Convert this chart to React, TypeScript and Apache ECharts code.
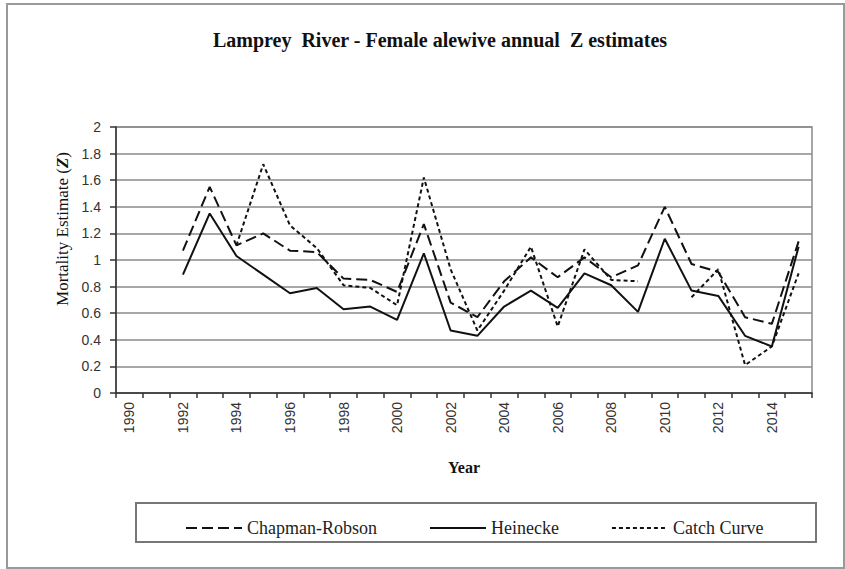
import React, { useEffect, useRef } from "react";
import * as echarts from "echarts";

const years: string[] = [
  "1990", "1991", "1992", "1993", "1994", "1995", "1996", "1997", "1998", "1999",
  "2000", "2001", "2002", "2003", "2004", "2005", "2006", "2007", "2008", "2009",
  "2010", "2011", "2012", "2013", "2014", "2015",
];

const chapmanRobson: (number | null)[] = [
  null, null, 1.07, 1.55, 1.11, 1.2, 1.07, 1.06, 0.86, 0.85,
  0.76, 1.27, 0.68, 0.57, 0.84, 1.02, 0.87, 1.02, 0.87, 0.96,
  1.4, 0.97, 0.91, 0.57, 0.52, 1.14,
];

const heinecke: (number | null)[] = [
  null, null, 0.89, 1.35, 1.03, 0.89, 0.75, 0.79, 0.63, 0.65,
  0.55, 1.05, 0.47, 0.43, 0.65, 0.77, 0.64, 0.9, 0.81, 0.61,
  1.16, 0.77, 0.73, 0.43, 0.35, 1.1,
];

const catchCurve: (number | null)[] = [
  null, null, null, null, 1.11, 1.72, 1.26, 1.09, 0.81, 0.79,
  0.66, 1.62, 0.93, 0.47, 0.77, 1.1, 0.5, 1.08, 0.85, 0.84,
  null, 0.72, 0.93, 0.21, 0.35, 0.9,
];

const seriesNames = ["Chapman-Robson", "Heinecke", "Catch Curve"];

const serif = "'Liberation Serif', 'Times New Roman', serif";
const sans = "'Liberation Sans', Arial, sans-serif";

export default function App() {
  const ref = useRef<HTMLDivElement>(null);

  useEffect(() => {
    if (!ref.current) return;
    const chart = echarts.init(ref.current, undefined, { renderer: "svg" });

    const mkSeries = (name: string, data: (number | null)[], type: any) => ({
      name,
      type: "line",
      data,
      symbol: "none",
      connectNulls: false,
      lineStyle: { color: "#111", width: 2, type },
      itemStyle: { color: "#111" },
    });

    chart.setOption({
      animation: false,
      backgroundColor: "#fff",
      title: {
        text: "Lamprey  River - Female alewive annual  Z estimates",
        left: 440,
        top: 30,
        textAlign: "center",
        padding: 0,
        textStyle: { fontFamily: serif, fontWeight: "bold", fontSize: 20, color: "#111" },
      },
      grid: { left: 116, right: 33, top: 127, bottom: 176, show: true, borderColor: "#8a8a8a", borderWidth: 1.5 },
      legend: {
        data: seriesNames,
        left: 180,
        top: 514,
        itemWidth: 56,
        itemHeight: 14,
        itemGap: 52,
        itemStyle: { opacity: 0, borderWidth: 0 },
        textStyle: { fontFamily: serif, fontSize: 18, color: "#222" },
      },
      xAxis: {
        type: "category",
        data: years,
        boundaryGap: true,
        name: "Year",
        nameLocation: "middle",
        nameGap: 66,
        nameTextStyle: { fontFamily: serif, fontWeight: "bold", fontSize: 16, color: "#111", verticalAlign: "top" },
        axisLine: { lineStyle: { color: "#333", width: 1.5 } },
        axisTick: { show: true, interval: 0, length: 5, lineStyle: { color: "#333", width: 1.5 } },
        axisLabel: {
          interval: 1,
          rotate: 90,
          margin: 9,
          fontFamily: sans,
          fontSize: 14,
          color: "#333",
        },
        splitLine: { show: false },
      },
      yAxis: {
        type: "value",
        min: 0,
        max: 2,
        interval: 0.2,
        axisLine: { show: true, lineStyle: { color: "#333", width: 1.5 } },
        axisTick: { show: true, length: 6, lineStyle: { color: "#333", width: 1.5 } },
        axisLabel: {
          margin: 15,
          fontFamily: sans,
          fontSize: 14,
          color: "#333",
          formatter: (v: number) => String(Math.round(v * 10) / 10),
        },
        splitLine: { show: true, lineStyle: { color: "#8a8a8a", width: 1.5 } },
      },
      graphic: [
        {
          type: "rect",
          shape: { x: 7, y: 4, width: 837, height: 564 },
          style: { fill: "none", stroke: "#9a9a9a", lineWidth: 2 },
          silent: true,
        },
        {
          type: "rect",
          shape: { x: 136, y: 503, width: 680, height: 39 },
          style: { fill: "none", stroke: "#777", lineWidth: 2 },
          silent: true,
        },
        {
          type: "text",
          x: 62,
          y: 229,
          rotation: Math.PI / 2,
          style: {
            text: "Mortality Estimate ({i|Z})",
            fontFamily: serif,
            fontSize: 17,
            fill: "#111",
            align: "center",
            verticalAlign: "middle",
            rich: { i: { fontFamily: serif, fontSize: 17, fontStyle: "italic", fontWeight: "bold", fill: "#111" } },
          },
          silent: true,
        },
      ],
      series: [
        mkSeries(seriesNames[0], chapmanRobson, [11, 5]),
        mkSeries(seriesNames[1], heinecke, "solid"),
        mkSeries(seriesNames[2], catchCurve, [4, 3]),
      ],
    });

    return () => chart.dispose();
  }, []);

  return (
    <div
      ref={ref}
      style={{ position: "fixed", left: 0, top: 0, width: 845, height: 569, background: "#fff" }}
    />
  );
}
